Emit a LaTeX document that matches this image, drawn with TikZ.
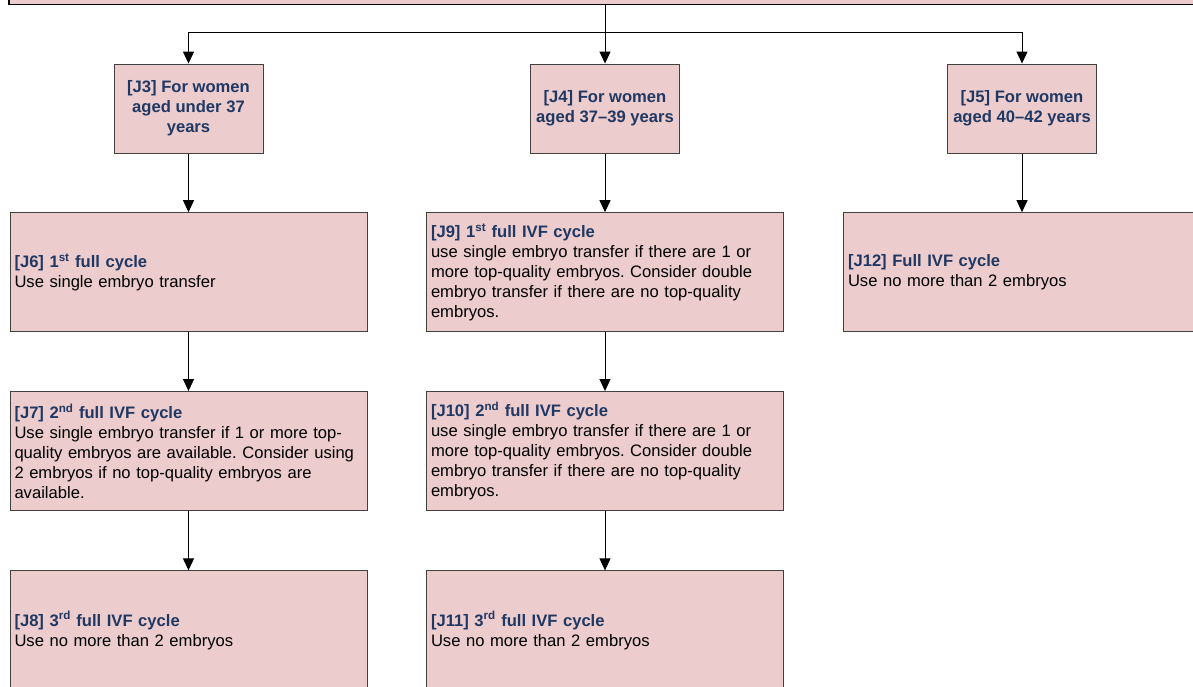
\documentclass[tikz,border=0pt]{standalone}
\usepackage{fontspec}
\setmainfont{Liberation Sans}
\usetikzlibrary{arrows.meta}
\definecolor{boxpink}{RGB}{236,204,204}
\definecolor{headblue}{RGB}{31,56,100}
\newcommand{\boxhead}[1]{\textcolor{headblue}{\bfseries #1}}
\frenchspacing

\begin{document}
\begin{tikzpicture}[x=1pt,y=-1pt,
    agebox/.style={draw=black!75, line width=1pt, fill=boxpink, align=center,
      inner sep=0pt, minimum width=149pt, minimum height=89.3pt, text=headblue,
      font=\fontsize{16.6}{20}\selectfont\bfseries},
    cyclebox/.style={draw=black!75, line width=1pt, fill=boxpink, align=left,
      inner xsep=4.5pt, inner ysep=0pt, text width=348pt, minimum height=119.3pt,
      font=\fontsize{16.6}{20}\selectfont},
    flow/.style={line width=1pt, -{Triangle[width=11pt,length=12pt]}}]
    \useasboundingbox (0,0) rectangle (1193,686);
    \clip (0,0) rectangle (1193,686);

    % Top box, cut off by the page edge
    \node[draw=black, line width=1.3pt, fill=boxpink, minimum width=1192pt,
      minimum height=40pt] (top) at (605,-15.5) {};

    % Age groups
    \node[agebox] (J3) at (188.5,108.7) {[J3] For women\\aged under 37\\years};
    \node[agebox] (J4) at (605,108.7) {[J4] For women\\aged 37--39 years};
    \node[agebox] (J5) at (1022,108.7) {[J5] For women\\aged 40--42 years};

    % Under 37
    \node[cyclebox] (J6) at (188.5,272.3) {\boxhead{[J6] 1\textsuperscript{st} full cycle}\\
      Use single embryo transfer};
    \node[cyclebox] (J7) at (188.5,451.2) {\boxhead{[J7] 2\textsuperscript{nd} full IVF cycle}\\
      Use single embryo transfer if 1 or more top-\\
      quality embryos are available. Consider using\\
      2 embryos if no top-quality embryos are\\
      available.};
    \node[cyclebox] (J8) at (188.5,630.5) {\boxhead{[J8] 3\textsuperscript{rd} full IVF cycle}\\
      Use no more than 2 embryos};

    % 37 to 39
    \node[cyclebox] (J9) at (605,272.3) {\boxhead{[J9] 1\textsuperscript{st} full IVF cycle}\\
      use single embryo transfer if there are 1 or\\
      more top-quality embryos. Consider double\\
      embryo transfer if there are no top-quality\\
      embryos.};
    \node[cyclebox] (J10) at (605,451.2) {\boxhead{[J10] 2\textsuperscript{nd} full IVF cycle}\\
      use single embryo transfer if there are 1 or\\
      more top-quality embryos. Consider double\\
      embryo transfer if there are no top-quality\\
      embryos.};
    \node[cyclebox] (J11) at (605,630.5) {\boxhead{[J11] 3\textsuperscript{rd} full IVF cycle}\\
      Use no more than 2 embryos};

    % 40 to 42
    \node[cyclebox] (J12) at (1022,272.3) {\boxhead{[J12] Full IVF cycle}\\
      Use no more than 2 embryos};

    % Split from the top box
    \coordinate (split) at (605,32);
    \draw[flow] (top.south -| J4.north) -- (J4.north);
    \draw[flow] (split) -| (J3.north);
    \draw[flow] (split) -| (J5.north);

    % Down each column
    \foreach \a/\b in {J3/J6, J6/J7, J7/J8, J4/J9, J9/J10, J10/J11, J5/J12}
      \draw[flow] (\a.south) -- (\b.north);
\end{tikzpicture}
\end{document}
